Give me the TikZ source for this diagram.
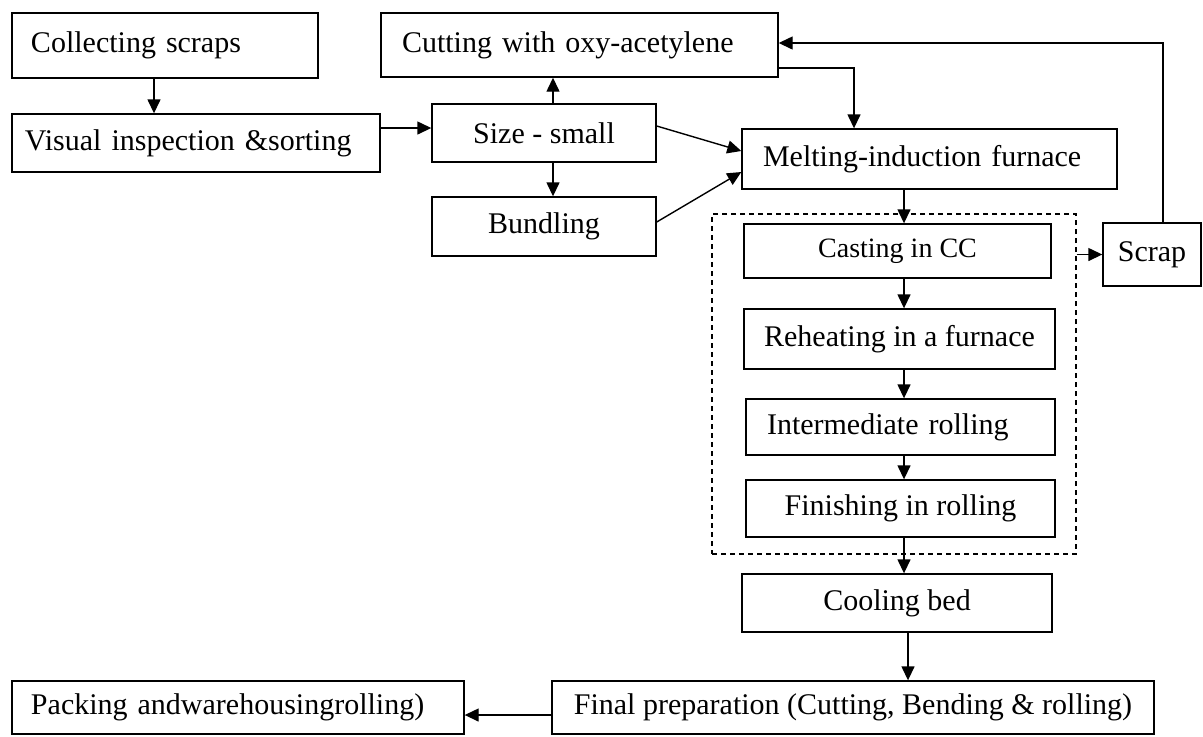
\documentclass[tikz,border=0pt]{standalone}
\usepackage{fontspec}
\setmainfont{Liberation Serif}
\usetikzlibrary{arrows.meta}
\begin{document}
\begin{tikzpicture}[x=0.5pt,y=-0.5pt,
    stage/.style={draw, line width=0.7pt, inner sep=0pt, align=center,
        font=\fontsize{15pt}{18pt}\selectfont},
    lstage/.style={stage, align=left},
    flow/.style={-{Triangle[length=7pt,width=6.5pt]}, line width=0.7pt}]
    \useasboundingbox (0,0) rectangle (1203,736);
    \node[lstage, inner xsep=9.5pt, text width=134pt, minimum height=32.5pt] (collect) at (165,45.5) {Collecting scraps};
    \node[lstage, inner xsep=6.5pt, text width=171pt, minimum height=29pt] (visual) at (196,143) {Visual inspection \&sorting};
    \node[lstage, inner xsep=10.5pt, text width=177.5pt, minimum height=32pt] (cut) at (579.5,45) {Cutting with oxy-acetylene};
    \node[stage, minimum width=112pt, minimum height=29pt] (size) at (544,133) {Size - small};
    \node[stage, minimum width=112pt, minimum height=29.5pt] (bundle) at (544,226.5) {Bundling};
    \node[lstage, inner xsep=10.5pt, text width=166.5pt, minimum height=30pt] (melt) at (929.5,159) {Melting-induction furnace};
    \node[draw, dash pattern=on 2.5pt off 2pt, line width=0.7pt, minimum width=182pt, minimum height=170pt] (mill) at (894,384) {};
    \node[stage, minimum width=153.5pt, minimum height=27pt, font=\fontsize{14pt}{17pt}\selectfont] (cast) at (897.5,251) {Casting in CC};
    \node[stage, minimum width=49pt, minimum height=31.5pt] (scrap) at (1152,254.5) {Scrap};
    \node[stage, minimum width=155.5pt, minimum height=30pt] (reheat) at (899.5,339) {Reheating in a furnace};
    \node[lstage, inner xsep=10.5pt, text width=133.5pt, minimum height=28pt] (inter) at (900.5,427) {Intermediate rolling};
    \node[stage, minimum width=154.5pt, minimum height=28.5pt] (finish) at (900.5,508.5) {Finishing in rolling};
    \node[stage, minimum width=155pt, minimum height=29pt] (cool) at (897,603) {Cooling bed};
    \node[stage, minimum width=301pt, minimum height=26.5pt] (final) at (853,707.5) {Final preparation (Cutting, Bending \& rolling)};
    \node[lstage, inner xsep=9.5pt, text width=207pt, minimum height=26.5pt] (pack) at (238,707.5) {Packing andwarehousingrolling)};
    % connectors
    \coordinate (spine) at (904,0);
    \coordinate (drop) at (908,0);
    \coordinate (vs) at ([yshift=2.5pt]size.west);
    \draw[flow] ([xshift=-5.5pt]collect.south) -- ([xshift=-5.5pt]collect.south |- visual.north);
    \draw[flow] (visual.east |- vs) -- (vs);
    \draw[flow] ([xshift=4.5pt]size.north) -- ([xshift=4.5pt]size.north |- cut.south);
    \draw[flow] ([xshift=4.5pt]size.south) -- ([xshift=4.5pt]size.south |- bundle.north);
    \draw[flow] ([yshift=3.5pt]size.east) -- ([yshift=4pt]melt.west);
    \draw[flow] ([yshift=2.25pt]bundle.east) -- ([yshift=-6.5pt]melt.west);
    \draw[flow] ([yshift=-11.5pt]cut.east) -| ([xshift=-37.75pt]melt.north);
    \draw[flow] ([xshift=5.5pt]scrap.north) |- ([yshift=1pt]cut.east);
    \draw[flow] (melt.south -| spine) -- (cast.north -| spine);
    \draw[flow] (cast.south -| spine) -- (reheat.north -| spine);
    \draw[flow] (reheat.south -| spine) -- (inter.north -| spine);
    \draw[flow] (inter.south -| spine) -- (finish.north -| spine);
    \draw[flow] (finish.south -| spine) -- (cool.north -| spine);
    \draw[flow] (cool.south -| drop) -- (final.north -| drop);
    \draw[flow] (mill.east |- scrap.west) -- (scrap.west);
    \draw[flow] ([yshift=-3.75pt]final.west) -- ([yshift=-3.75pt]final.west -| pack.east);
\end{tikzpicture}
\end{document}
